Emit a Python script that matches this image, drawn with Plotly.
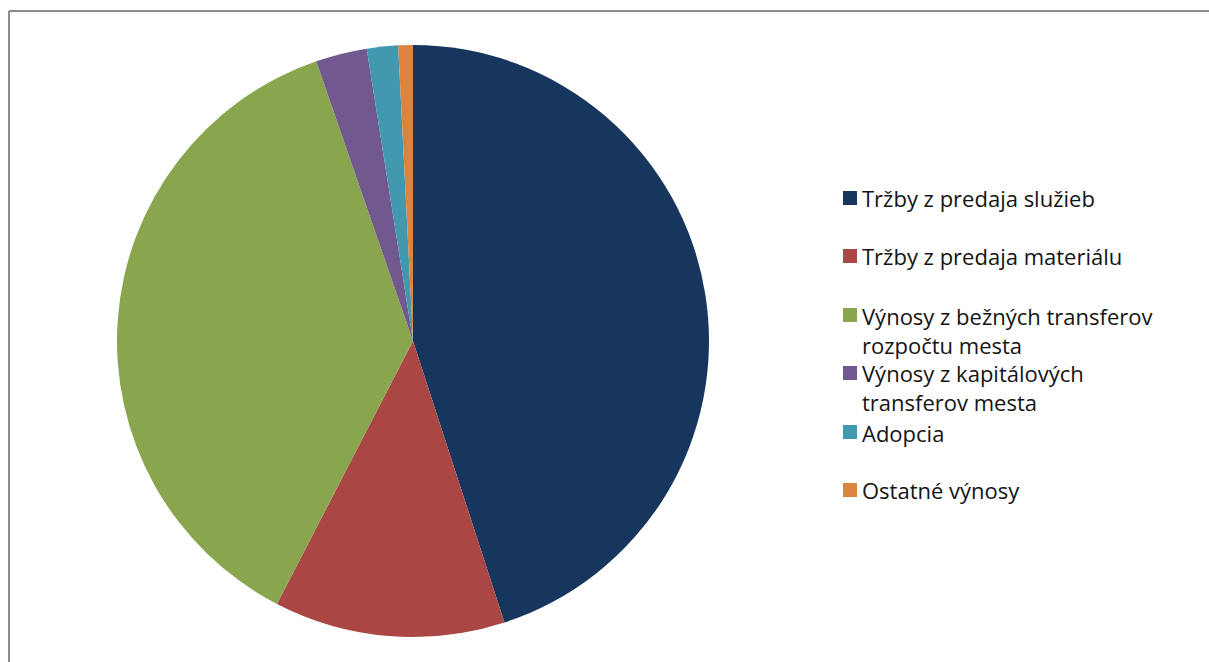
import plotly.graph_objects as go

W, H = 1209, 662

labels = [
    "Tržby z predaja služieb",
    "Tržby z predaja materiálu",
    "Výnosy z bežných transferov rozpočtu mesta",
    "Výnosy z kapitálových transferov mesta",
    "Adopcia",
    "Ostatné výnosy",
]
legend_text = [
    "Tržby z predaja služieb",
    "Tržby z predaja materiálu",
    "Výnosy z bežných transferov<br>rozpočtu mesta",
    "Výnosy z kapitálových<br>transferov mesta",
    "Adopcia",
    "Ostatné výnosy",
]
values = [45.0, 12.6, 37.1, 2.8, 1.7, 0.8]
colors = ["#17365D", "#AA4643", "#89A54E", "#71588F", "#4198AF", "#DB843D"]

# legend item vertical centres (pixels from top)
legend_y = [198, 256, 330, 387.5, 433, 490]
legend_first_line = [198, 256, 315, 373, 432, 490]


def px(x):
    return x / W


def py(y):
    return 1 - y / H


cx, cy, r = 413, 341, 296

fig = go.Figure(
    go.Pie(
        labels=labels,
        values=values,
        marker=dict(colors=colors, line=dict(width=0)),
        sort=False,
        direction="clockwise",
        rotation=0,
        textinfo="none",
        hoverinfo="label+percent",
        showlegend=False,
        domain=dict(x=[px(cx - r), px(cx + r)], y=[py(cy + r), py(cy - r)]),
    )
)

shapes = []
annotations = []
# frame (left and top edges visible)
shapes.append(dict(type="line", xref="paper", yref="paper",
                   x0=px(9), x1=px(1215), y0=py(11), y1=py(11),
                   line=dict(color="#8C8C8C", width=2)))
shapes.append(dict(type="line", xref="paper", yref="paper",
                   x0=px(9), x1=px(9), y0=py(11), y1=py(670),
                   line=dict(color="#8C8C8C", width=2)))

for txt, col, yc, yf in zip(legend_text, colors, legend_y, legend_first_line):
    shapes.append(dict(type="rect", xref="paper", yref="paper",
                       x0=px(843), x1=px(857), y0=py(yf - 7), y1=py(yf + 7),
                       fillcolor=col, line=dict(width=0)))
    annotations.append(dict(xref="paper", yref="paper", x=px(861), y=py(yc),
                            xanchor="left", yanchor="middle", align="left",
                            text=txt, showarrow=False, borderpad=0,
                            font=dict(family="Open Sans", size=22, color="#141414")))

fig.update_layout(
    width=W, height=H,
    margin=dict(l=0, r=0, t=0, b=0),
    paper_bgcolor="white",
    plot_bgcolor="white",
    shapes=shapes,
    annotations=annotations,
    showlegend=False,
)

fig.write_html(
    "out.html",
    config={"displayModeBar": False},
    post_script="document.body.style.margin='0';document.body.style.overflow='hidden';",
)
